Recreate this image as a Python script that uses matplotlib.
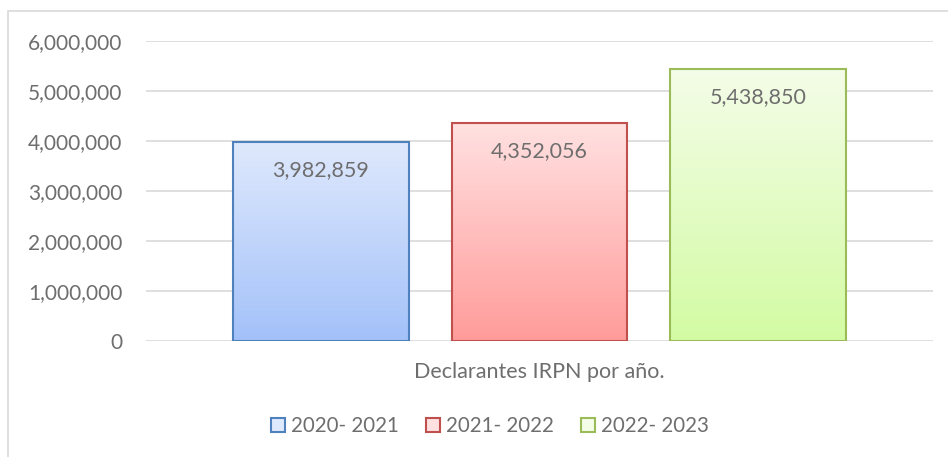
import numpy as np
import matplotlib.pyplot as plt
from matplotlib.colors import LinearSegmentedColormap
from matplotlib.patches import Patch, Rectangle
from matplotlib.ticker import FuncFormatter

plt.rcParams['font.family'] = ['Lato', 'DejaVu Sans']

periods = ['2020- 2021', '2021- 2022', '2022- 2023']
values = [3982859, 4352056, 5438850]
category = 'Declarantes IRPN por año.'

tops = ['#dfe9fd', '#ffe1e1', '#f4fde8']
bottoms = ['#a3c1f9', '#ff9c9a', '#d3fba3']
edges = ['#4f81bd', '#c0504d', '#9bbb59']
text_gray = '#6e6e6e'

fig = plt.figure(figsize=(9.48, 4.57), dpi=100)
# outer chart border (only top and left show in the reference, the rest is cut off)
fig.patches.append(Rectangle((8 / 948, -0.1), 1.1, 0.1 + 446 / 457,
                             transform=fig.transFigure, fill=False,
                             edgecolor='#d9d9d9', linewidth=1.2))
ax = fig.add_axes([146 / 948, 116 / 457, 787 / 948, 300 / 457])

x = np.arange(len(values)) * 1.0
width = 0.805
bars = ax.bar(x, values, width=width, color='none', zorder=3)

for b, top, bot, ec, v in zip(bars, tops, bottoms, edges, values):
    cmap = LinearSegmentedColormap.from_list('g', [bot, top])
    grad = np.linspace(0, 1, 256).reshape(-1, 1)
    x0 = b.get_x()
    im = ax.imshow(grad, cmap=cmap, origin='lower', aspect='auto',
                   extent=[x0, x0 + b.get_width(), 0, v], zorder=3)
    im.set_clip_path(b)
    ax.add_patch(Rectangle((x0, 0), b.get_width(), v, fill=False,
                           edgecolor=ec, linewidth=1.5, zorder=4))
    ax.text(b.get_x() + b.get_width() / 2, v - 560000, f'{v:,}',
            ha='center', va='center', fontsize=15.5, color=text_gray, zorder=5)

ax.set_xlim(-0.801, 2.801)
ax.set_ylim(0, 6000000)
ax.set_yticks(np.arange(0, 6000001, 1000000))
ax.yaxis.set_major_formatter(FuncFormatter(lambda v, p: f'{int(v):,}'))
ax.tick_params(axis='y', length=0, pad=17, labelsize=15, labelcolor=text_gray)
ax.set_xticks([1])
ax.set_xticklabels([category])
ax.tick_params(axis='x', length=0, pad=15, labelsize=15.5, labelcolor=text_gray)
ax.grid(axis='y', color='#d9d9d9', linewidth=1.2, zorder=0)
for s in ax.spines.values():
    s.set_visible(False)

handles = [Patch(facecolor=t, edgecolor=e, linewidth=1.5) for t, e in zip(tops, edges)]
fig.legend(handles, periods, loc='center', bbox_to_anchor=(490 / 948, 31 / 457),
           ncol=3, frameon=False, fontsize=14.8, labelcolor=text_gray,
           handlelength=0.7, handleheight=0.7, handletextpad=0.3, columnspacing=1.3)

fig.savefig('out.png', dpi=100)
